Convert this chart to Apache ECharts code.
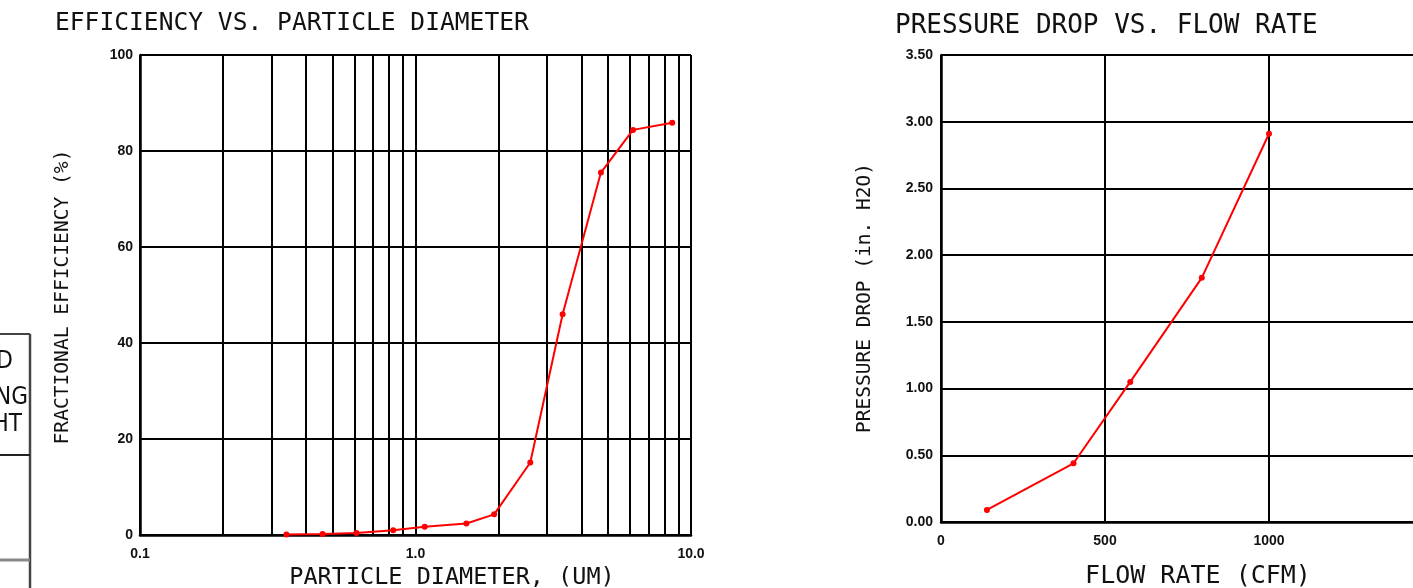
<!DOCTYPE html>
<html><head><meta charset="utf-8">
<script src="https://cdn.jsdelivr.net/npm/echarts@6/dist/echarts.min.js"></script>
<style>html,body{margin:0;padding:0;background:#fff}#c{width:1413px;height:588px}</style>
</head><body><div id="c"></div>
<script>
// ---- data ----
const diameters   = [0.34, 0.46, 0.61, 0.83, 1.08, 1.53, 1.93, 2.61, 3.42, 4.71, 6.16, 8.55];
const efficiency  = [0.1, 0.2, 0.4, 1.0, 1.7, 2.4, 4.3, 15.1, 46.0, 75.5, 84.4, 85.9];
const minorDiameters = [0.2, 0.3, 0.4, 0.5, 0.6, 0.7, 0.8, 0.9, 2, 3, 4, 5, 6, 7, 8, 9];
const flowRates     = [140, 404, 577, 795, 1000];
const pressureDrops = [0.09, 0.44, 1.05, 1.83, 2.91];
const leftTitle  = 'EFFICIENCY VS. PARTICLE DIAMETER';
const rightTitle = 'PRESSURE DROP VS. FLOW RATE';
const leftXName  = 'PARTICLE DIAMETER, (UM)';
const leftYName  = 'FRACTIONAL EFFICIENCY (%)';
const rightXName = 'FLOW RATE (CFM)';
const rightYName = 'PRESSURE DROP (in. H2O)';
const tableFragments = ['D', 'NG', 'HT'];

// ---- styles ----
const MONO = '"DejaVu Sans Mono", "Liberation Mono", monospace';
const TICK = { fontFamily: '"Liberation Sans", Arial, sans-serif', fontWeight: 'bold', fontSize: 14, color: '#111' };
const GRIDLINE = { color: '#000', width: 2 };
const AXLINE = { lineStyle: { color: '#000', width: 2.5 } };

const chart = echarts.init(document.getElementById('c'), null, { renderer: 'canvas' });

function txt(text, x, y, size, rot, family, align) {
  return {
    type: 'text', x: x, y: y, rotation: rot || 0, silent: true,
    style: {
      text: text, fill: '#111', textAlign: align || 'center', textVerticalAlign: 'middle',
      font: size + 'px ' + (family || MONO)
    }
  };
}

chart.setOption({
  animation: false,
  backgroundColor: '#fff',
  grid: [
    { left: 140, top: 55, width: 551, height: 480, show: false, containLabel: false, outerBoundsMode: 'none' },
    { left: 941, top: 55, width: 492, height: 467, show: false, containLabel: false, outerBoundsMode: 'none' }
  ],
  xAxis: [
    {
      gridIndex: 0, type: 'log', logBase: 10, min: 0.1, max: 10,
      axisLine: AXLINE, axisTick: { show: false },
      axisLabel: Object.assign({ margin: 12, formatter: v => Number(v).toFixed(1) }, TICK),
      splitLine: { show: true, lineStyle: GRIDLINE }, minorSplitLine: { show: false }
    },
    {
      gridIndex: 1, type: 'value', min: 0, max: 1500, interval: 500,
      axisLine: AXLINE, axisTick: { show: false },
      axisLabel: Object.assign({ margin: 12, formatter: v => String(v) }, TICK),
      splitLine: { show: true, lineStyle: GRIDLINE }
    }
  ],
  yAxis: [
    {
      gridIndex: 0, type: 'value', min: 0, max: 100, interval: 20,
      axisLine: Object.assign({ show: true }, AXLINE), axisTick: { show: false },
      axisLabel: Object.assign({ margin: 7 }, TICK),
      splitLine: { show: true, lineStyle: GRIDLINE }
    },
    {
      gridIndex: 1, type: 'value', min: 0, max: 3.5, interval: 0.5,
      axisLine: Object.assign({ show: true }, AXLINE), axisTick: { show: false },
      axisLabel: Object.assign({ margin: 8, formatter: v => Number(v).toFixed(2) }, TICK),
      splitLine: { show: true, lineStyle: GRIDLINE }
    }
  ],
  series: [
    {
      type: 'line', xAxisIndex: 0, yAxisIndex: 0,
      data: diameters.map((d, i) => [d, efficiency[i]]),
      symbol: 'circle', symbolSize: 6, z: 5,
      lineStyle: { color: '#ff0000', width: 2 }, itemStyle: { color: '#ff0000' },
      markLine: {
        silent: true, symbol: 'none', label: { show: false }, z: 1,
        lineStyle: { color: '#000', width: 2, type: 'solid' },
        data: minorDiameters.map(v => ({ xAxis: v }))
      }
    },
    {
      type: 'line', xAxisIndex: 1, yAxisIndex: 1,
      data: flowRates.map((f, i) => [f, pressureDrops[i]]),
      symbol: 'circle', symbolSize: 6, z: 5,
      lineStyle: { color: '#ff0000', width: 2 }, itemStyle: { color: '#ff0000' }
    }
  ],
  graphic: [
    txt(leftTitle, 55, 24, 24.6, 0, MONO, 'left'),
    txt(rightTitle, 895, 26, 26, 0, MONO, 'left'),
    txt(leftXName, 452, 578, 23.5),
    txt(rightXName, 1198, 576, 25),
    txt(leftYName, 63, 297, 19.6, Math.PI / 2),
    txt(rightYName, 865, 298, 19.5, Math.PI / 2),
    // partial table at the left edge
    { type: 'line', silent: true, shape: { x1: 30, y1: 334, x2: 30, y2: 588 }, style: { stroke: '#444', lineWidth: 2.5 } },
    { type: 'line', silent: true, shape: { x1: 0, y1: 334, x2: 30, y2: 334 }, style: { stroke: '#444', lineWidth: 2 } },
    { type: 'line', silent: true, shape: { x1: 0, y1: 455, x2: 30, y2: 455 }, style: { stroke: '#222', lineWidth: 2 } },
    { type: 'line', silent: true, shape: { x1: 0, y1: 560, x2: 30, y2: 560 }, style: { stroke: '#888', lineWidth: 3 } },
    txt(tableFragments[0], 13, 362, 24, 0, '"Liberation Sans Narrow", "DejaVu Sans Condensed", sans-serif', 'right'),
    txt(tableFragments[1], 28, 398, 24, 0, '"Liberation Sans Narrow", "DejaVu Sans Condensed", sans-serif', 'right'),
    txt(tableFragments[2], 22, 425, 24, 0, '"Liberation Sans Narrow", "DejaVu Sans Condensed", sans-serif', 'right')
  ]
});
</script></body></html>
